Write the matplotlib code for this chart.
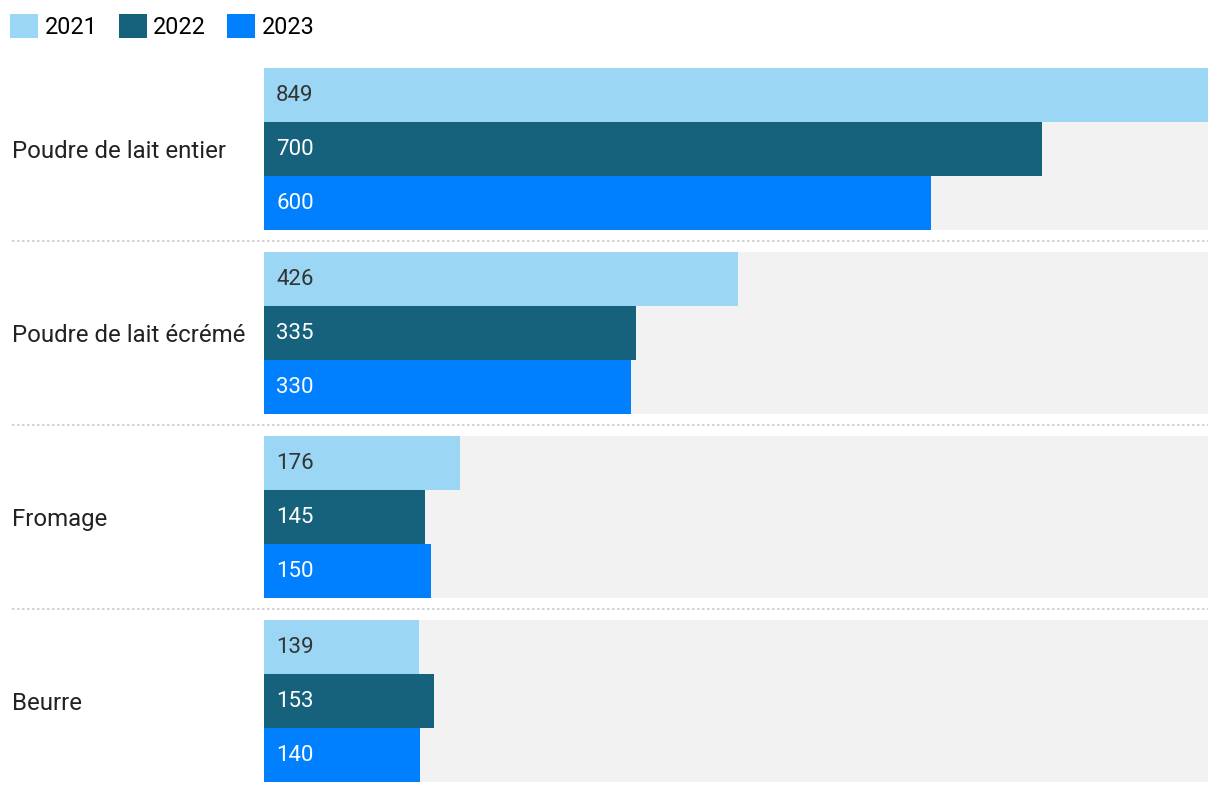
import matplotlib.pyplot as plt
import numpy as np

plt.rcParams['font.family'] = ['Roboto', 'DejaVu Sans']

categories = ["Poudre de lait entier", "Poudre de lait écrémé", "Fromage", "Beurre"]
years = ["2021", "2022", "2023"]
v2021 = [849, 426, 176, 139]
v2022 = [700, 335, 145, 153]
v2023 = [600, 330, 150, 140]

colors = ["#9bd7f4", "#16627d", "#0080ff"]
text_colors = ["#333333", "white", "white"]

W, H = 1220, 794
fig = plt.figure(figsize=(W / 100, H / 100), dpi=100)
left, right, top, bottom = 264, 1208, 68, 782
ax = fig.add_axes([left / W, 1 - bottom / H, (right - left) / W, (bottom - top) / H])

pitch = 184 / 54
gap = 22 / 54
xmax = max(v2021 + v2022 + v2023)
series = [v2021, v2022, v2023]
lab_x = -(left - 12) / (right - left)

for i, cat in enumerate(categories):
    y0 = i * pitch
    ax.barh(y0, xmax, height=3, align='edge', color="#f2f2f2", zorder=0)
    for j, vals in enumerate(series):
        ax.barh(y0 + j, vals[i], height=1, align='edge', color=colors[j],
                label=years[j] if i == 0 else None, zorder=1)
        ax.annotate(str(vals[i]), (0, y0 + j + 0.5), xytext=(12, 2),
                    textcoords='offset pixels', va='center_baseline', ha='left',
                    fontsize=16, color=text_colors[j], zorder=2)
    ax.annotate(cat, (lab_x, y0 + 1.5), xycoords=ax.get_yaxis_transform(),
                xytext=(0, 0), textcoords='offset pixels',
                va='center_baseline', ha='left', fontsize=17.3, color="#222222",
                annotation_clip=False)
    if i > 0:
        ax.axhline(y0 - gap / 2, xmin=lab_x, xmax=1,
                   color="#cccccc", lw=1.2, ls=(0, (1.5, 1.5)), clip_on=False)

ax.set_xlim(0, xmax)
ax.set_ylim(len(categories) * pitch - gap, 0)
ax.axis('off')

handles, labels = ax.get_legend_handles_labels()
fig.legend(handles, labels, loc='upper left', bbox_to_anchor=(10 / W, 1 - 14 / H),
           frameon=False, ncol=3, fontsize=16.8, handlelength=1.2, handleheight=1.2,
           handletextpad=0.29, columnspacing=0.9, borderaxespad=0, borderpad=0)

fig.savefig("out.png", dpi=100)
